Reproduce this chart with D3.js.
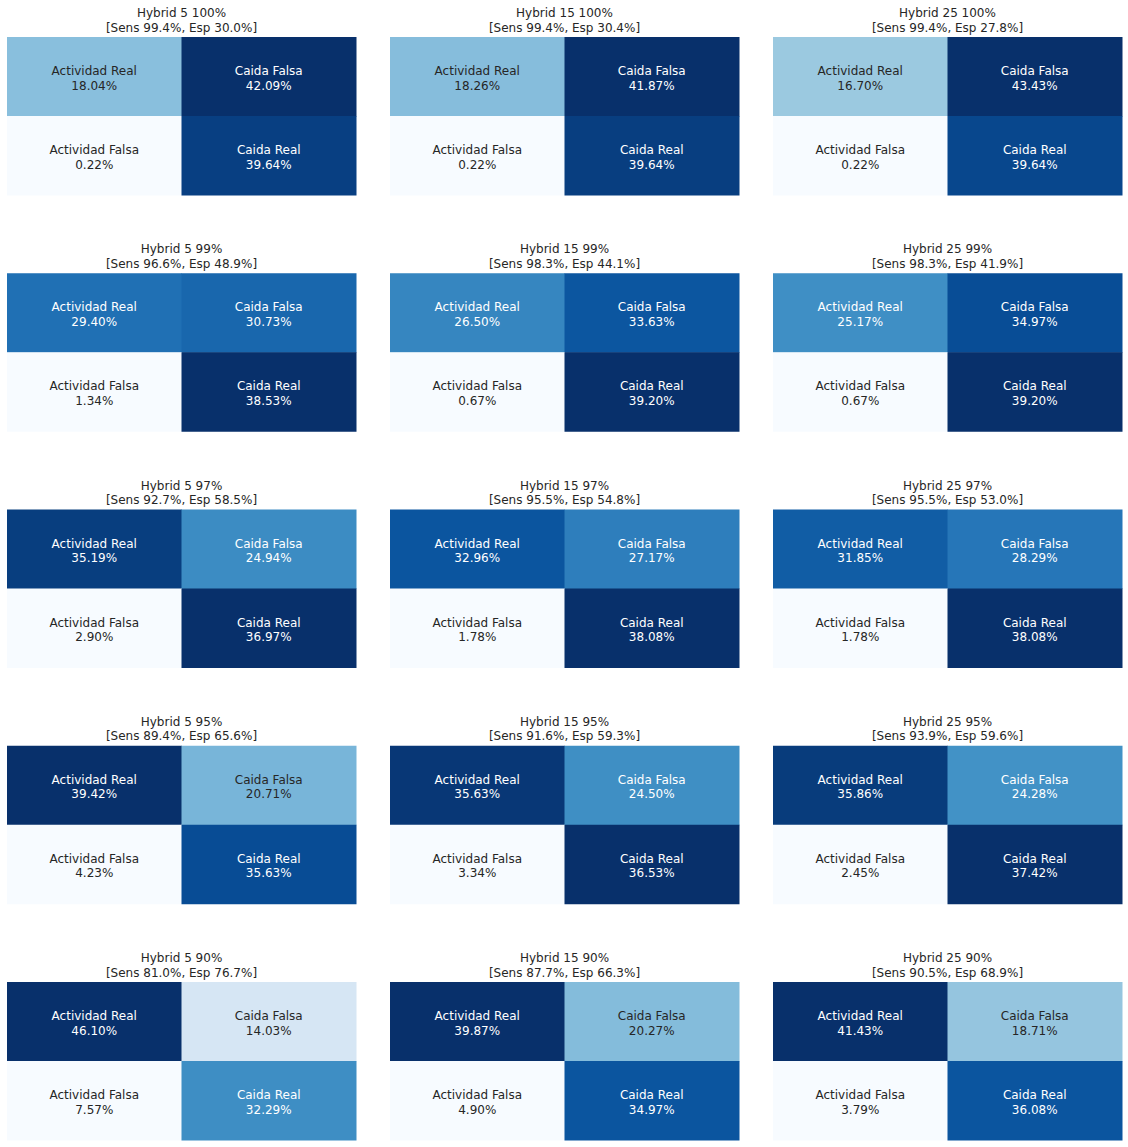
<!DOCTYPE html>
<html><head><meta charset="utf-8">
<script src="https://cdn.jsdelivr.net/npm/d3@7"></script>
<style>body{margin:0;background:#fff;} text{font-family:"DejaVu Sans",sans-serif;}</style>
</head><body>
<script>
const models = ["Hybrid 5", "Hybrid 15", "Hybrid 25"];
const thresholds = ["100%", "99%", "97%", "95%", "90%"];
const cellLabels = ["Actividad Real", "Caida Falsa", "Actividad Falsa", "Caida Real"];
// values per threshold row, per model: [AR, CF, AF, CR]
const values100 = [[18.04, 42.09, 0.22, 39.64], [18.26, 41.87, 0.22, 39.64], [16.70, 43.43, 0.22, 39.64]];
const values99  = [[29.40, 30.73, 1.34, 38.53], [26.50, 33.63, 0.67, 39.20], [25.17, 34.97, 0.67, 39.20]];
const values97  = [[35.19, 24.94, 2.90, 36.97], [32.96, 27.17, 1.78, 38.08], [31.85, 28.29, 1.78, 38.08]];
const values95  = [[39.42, 20.71, 4.23, 35.63], [35.63, 24.50, 3.34, 36.53], [35.86, 24.28, 2.45, 37.42]];
const values90  = [[46.10, 14.03, 7.57, 32.29], [39.87, 20.27, 4.90, 34.97], [41.43, 18.71, 3.79, 36.08]];
const sens100 = [99.4, 99.4, 99.4], esp100 = [30.0, 30.4, 27.8];
const sens99  = [96.6, 98.3, 98.3], esp99  = [48.9, 44.1, 41.9];
const sens97  = [92.7, 95.5, 95.5], esp97  = [58.5, 54.8, 53.0];
const sens95  = [89.4, 91.6, 93.9], esp95  = [65.6, 59.3, 59.6];
const sens90  = [81.0, 87.7, 90.5], esp90  = [76.7, 66.3, 68.9];

const allValues = [values100, values99, values97, values95, values90];
const allSens = [sens100, sens99, sens97, sens95, sens90];
const allEsp = [esp100, esp99, esp97, esp95, esp90];

const W = 1128, H = 1147;
const svg = d3.select("body").append("svg").attr("width", W).attr("height", H);

const blues = ["#f7fbff","#deebf7","#c6dbef","#9ecae1","#6baed6","#4292c6","#2171b5","#08519c","#08306b"];
const blueScale = d3.scaleLinear().domain(d3.range(9).map(i => i / 8)).range(blues).interpolate(d3.interpolateRgb).clamp(true);

function lum(c) {
  const rgb = d3.rgb(c);
  const f = v => { v /= 255; return v <= 0.03928 ? v / 12.92 : Math.pow((v + 0.055) / 1.055, 2.4); };
  return 0.2126 * f(rgb.r) + 0.7152 * f(rgb.g) + 0.0722 * f(rgb.b);
}

const colX = d3.scaleBand().domain(d3.range(3)).range([7, 7 + 383 * 3]).paddingInner(0).paddingOuter(0);
const rowY = d3.scaleBand().domain(d3.range(5)).range([37, 37 + 236.25 * 5]);
const pw = 349, ph = 158;

allValues.forEach((rowVals, r) => {
  rowVals.forEach((vals, c) => {
    const g = svg.append("g").attr("transform", `translate(${colX(c)},${rowY(r)})`);
    const x = d3.scaleBand().domain([0, 1]).range([0, pw]);
    const y = d3.scaleBand().domain([0, 1]).range([0, ph]);
    const norm = d3.scaleLinear().domain(d3.extent(vals)).range([0, 1]);
    const cells = vals.map((v, i) => ({v, i, col: i % 2, row: Math.floor(i / 2)}));
    g.selectAll("rect").data(cells).join("rect")
      .attr("x", d => x(d.col)).attr("y", d => y(d.row))
      .attr("width", x.bandwidth() + 0.5).attr("height", y.bandwidth() + 0.5)
      .attr("fill", d => blueScale(norm(d.v)));
    const t = g.selectAll("text.cell").data(cells).join("text").attr("class", "cell")
      .attr("text-anchor", "middle").attr("font-size", "12px")
      .attr("fill", d => lum(blueScale(norm(d.v))) > 0.408 ? "#262626" : "#ffffff")
      .attr("x", d => x(d.col) + x.bandwidth() / 2);
    t.append("tspan").attr("x", d => x(d.col) + x.bandwidth() / 2)
      .attr("y", d => y(d.row) + y.bandwidth() / 2 - 1.5).text(d => cellLabels[d.i]);
    t.append("tspan").attr("x", d => x(d.col) + x.bandwidth() / 2)
      .attr("y", d => y(d.row) + y.bandwidth() / 2 + 13).text(d => d.v.toFixed(2) + "%");
    const title = g.append("text").attr("text-anchor", "middle").attr("font-size", "12px").attr("fill", "#262626");
    title.append("tspan").attr("x", pw / 2).attr("y", -20).text(`${models[c]} ${thresholds[r]}`);
    title.append("tspan").attr("x", pw / 2).attr("y", -5.5)
      .text(`[Sens ${allSens[r][c].toFixed(1)}%, Esp ${allEsp[r][c].toFixed(1)}%]`);
  });
});
</script>
</body></html>
